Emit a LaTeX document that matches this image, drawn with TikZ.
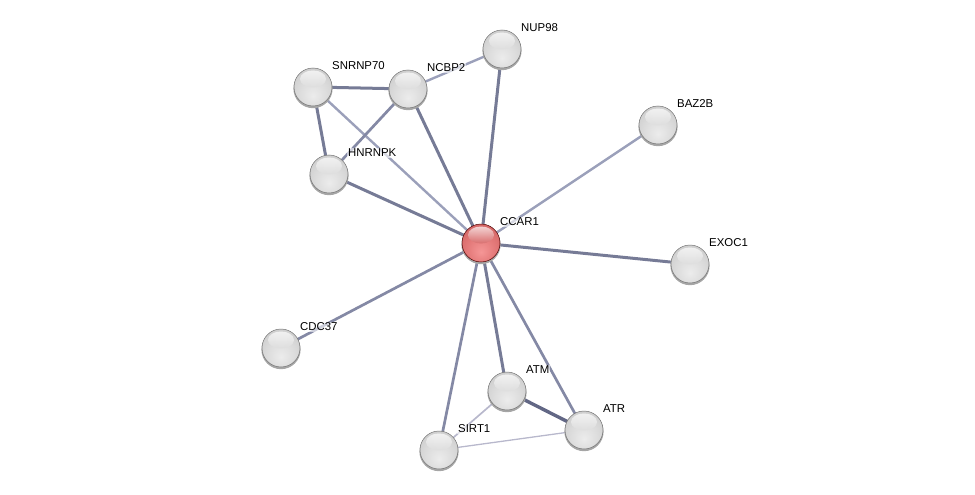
\documentclass[tikz,border=0pt]{standalone}
\usepackage{fontspec}
\setmainfont{Liberation Sans}
\usetikzlibrary{backgrounds}
\definecolor{gA}{RGB}{236,236,236}
\definecolor{gB}{RGB}{220,220,220}
\definecolor{gC}{RGB}{204,204,204}
\definecolor{gD}{RGB}{178,178,178}
\definecolor{gE}{RGB}{128,128,128}
\definecolor{rA}{RGB}{245,150,150}
\definecolor{rB}{RGB}{228,122,122}
\definecolor{rC}{RGB}{210,100,100}
\definecolor{rD}{RGB}{185,75,75}
\definecolor{rE}{RGB}{140,40,40}
\definecolor{eS}{RGB}{118,123,150}
\definecolor{eM}{RGB}{132,137,165}
\definecolor{eL}{RGB}{155,160,186}
\definecolor{eF}{RGB}{184,184,204}
\pgfdeclareradialshading{greyball}{\pgfpoint{0bp}{-12bp}}{%
  color(0bp)=(gA); color(18bp)=(gB); color(34bp)=(gC);
  color(48bp)=(gD); color(58bp)=(gE); color(70bp)=(gE)}
\pgfdeclareradialshading{redball}{\pgfpoint{0bp}{-12bp}}{%
  color(0bp)=(rA); color(18bp)=(rB); color(34bp)=(rC);
  color(48bp)=(rD); color(58bp)=(rE); color(70bp)=(rE)}
\tikzset{
  prot/.style={circle, minimum size=38pt, inner sep=0pt, shading=greyball, draw=black!55, line width=0.5pt},
  query/.style={prot, shading=redball, draw=red!30!black},
  lab/.style={font=\fontsize{11.4}{13}\selectfont, anchor=west, inner sep=1pt, fill=white, fill opacity=0.6, text opacity=1},
  estrong/.style={line width=3pt, draw=eS},
  emed/.style={line width=2.7pt, draw=eM},
  elight/.style={line width=2.4pt, draw=eL},
  efaint/.style={line width=1.7pt, draw=eF},
  ethin/.style={line width=1.3pt, draw=eF},
  shadowc/.style={fill=black!35, draw=none}
}
\newcommand{\ball}[6]{%
  \fill[shadowc] (#3,#4+1.6) circle (19.6pt);
  \node[#1] (#2) at (#3,#4) {};
  \shade[top color=white, bottom color=#6, fill opacity=0.7] (#3,#4-8) ellipse (13pt and 8.5pt);
  \node[lab] (l#2) at (#3+18,#4-21) {#5};
}
\begin{document}
\begin{tikzpicture}[x=1pt,y=-1pt]
\useasboundingbox (0,0) rectangle (975,495);
\ball{prot}{NUP98}{502}{49}{NUP98}{gB}
\ball{prot}{SNRNP70}{313}{87}{SNRNP70}{gB}
\ball{prot}{NCBP2}{408}{89}{NCBP2}{gB}
\ball{prot}{BAZ2B}{658}{125}{BAZ2B}{gB}
\ball{prot}{HNRNPK}{329}{174}{HNRNPK}{gB}
\ball{query}{CCAR1}{481}{243}{CCAR1}{rC}
\ball{prot}{EXOC1}{690}{264}{EXOC1}{gB}
\ball{prot}{CDC37}{281}{348}{CDC37}{gB}
\ball{prot}{ATM}{507}{391}{ATM}{gB}
\ball{prot}{ATR}{584}{430}{ATR}{gB}
\ball{prot}{SIRT1}{439}{450}{SIRT1}{gB}
\begin{pgfonlayer}{background}
\draw[estrong] (SNRNP70.center) -- (NCBP2.center);
\draw[estrong] (SNRNP70.center) -- (HNRNPK.center);
\draw[elight] (SNRNP70.center) -- (CCAR1.center);
\draw[emed] (NCBP2.center) -- (HNRNPK.center);
\draw[elight] (NCBP2.center) -- (NUP98.center);
\draw[estrong] (NCBP2.center) -- (CCAR1.center);
\draw[estrong] (NUP98.center) -- (CCAR1.center);
\draw[estrong] (HNRNPK.center) -- (CCAR1.center);
\draw[elight] (BAZ2B.center) -- (CCAR1.center);
\draw[estrong] (EXOC1.center) -- (CCAR1.center);
\draw[emed] (CDC37.center) -- (CCAR1.center);
\draw[estrong] (ATM.center) -- (CCAR1.center);
\draw[emed] (ATR.center) -- (CCAR1.center);
\draw[emed] (SIRT1.center) -- (CCAR1.center);
\draw[estrong, line width=3.4pt, draw={rgb,255:red,98;green,103;blue,133}] (ATM.center) -- (ATR.center);
\draw[efaint] (ATM.center) -- (SIRT1.center);
\draw[ethin] (SIRT1.center) -- (ATR.center);
\end{pgfonlayer}
\end{tikzpicture}
\end{document}
